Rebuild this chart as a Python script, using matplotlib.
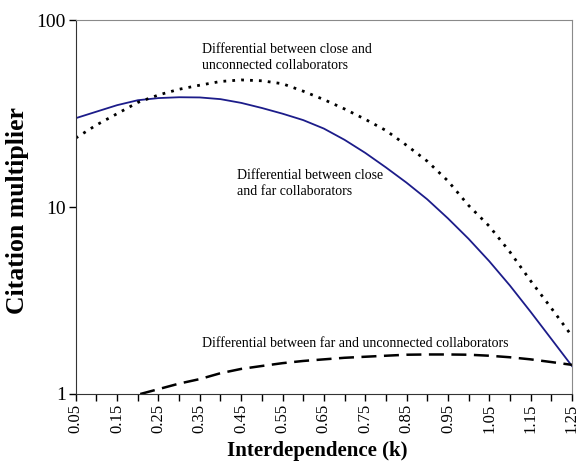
import matplotlib
matplotlib.use("Agg")
import matplotlib.pyplot as plt
from matplotlib.ticker import FixedLocator, NullLocator

# interdependence k, 0.05 .. 1.25
k = [0.05, 0.10, 0.15, 0.20, 0.25, 0.30, 0.35, 0.40, 0.45, 0.50, 0.55, 0.60, 0.65,
     0.70, 0.75, 0.80, 0.85, 0.90, 0.95, 1.00, 1.05, 1.10, 1.15, 1.20, 1.25]

close_far = [29.9, 32.4, 35.1, 37.3, 38.3, 38.7, 38.6, 37.8, 36.1, 33.9, 31.6, 29.2, 26.3,
             22.9, 19.5, 16.3, 13.5, 11.0, 8.7, 6.76, 5.13, 3.80, 2.75, 1.97, 1.41]

close_unconnected = [23.4, 27.5, 31.6, 36.3, 39.8, 42.7, 44.9, 47.0, 47.9, 47.4, 45.7, 41.7, 37.6,
                     33.5, 29.5, 25.7, 21.4, 17.6, 13.8, 10.2, 7.9, 5.75, 4.03, 2.88, 2.04]

far_unconnected = [0.78, 0.85, 0.91, 0.99, 1.06, 1.135, 1.20, 1.29, 1.36, 1.41, 1.46, 1.50, 1.53,
                   1.56, 1.58, 1.60, 1.62, 1.625, 1.625, 1.62, 1.60, 1.57, 1.53, 1.48, 1.43]


def main():
    plt.rcParams["font.family"] = ["Liberation Serif", "DejaVu Serif"]

    fig = plt.figure(figsize=(5.83, 4.70), dpi=100)
    ax = fig.add_axes([0.130, 0.162, 0.851, 0.795])

    ax.plot(k, close_far, color="#1c1c8a", lw=1.3)
    ax.plot(k, close_unconnected, color="black", lw=2.0, linestyle=(0, (1, 2.2)))
    ax.plot(k, far_unconnected, color="black", lw=1.8, linestyle=(0, (6, 3)))

    ax.set_yscale("log")
    ax.set_ylim(1, 100)
    ax.set_xlim(k[0], k[-1])
    ax.yaxis.set_major_locator(FixedLocator([1, 10, 100]))
    ax.yaxis.set_minor_locator(NullLocator())
    ax.set_yticklabels(["1", "10", "100"], fontsize=14)

    ax.set_xticks(k)
    ax.set_xticklabels([f"{v:.2f}" if i % 2 == 0 else "" for i, v in enumerate(k)],
                       rotation=90, fontsize=12)
    ax.tick_params(axis="both", direction="out", length=5, width=1, pad=2)

    for side in ["left", "bottom"]:
        ax.spines[side].set_color("#333333")
    for side in ["top", "right"]:
        ax.spines[side].set_color("#8a8a8a")

    ax.set_xlabel("Interdependence (k)", fontsize=15, fontweight="bold")
    ax.xaxis.set_label_coords(0.486, -0.125)
    ax.set_ylabel("Citation multiplier", fontsize=18.5, fontweight="bold")
    ax.yaxis.set_label_coords(-0.095, 0.49)

    ax.text(0.355, 63.4, "Differential between close and\nunconnected collaborators",
            fontsize=10, va="center", ha="left", linespacing=1.3)
    ax.text(0.44, 13.4, "Differential between close\nand far collaborators",
            fontsize=10, va="center", ha="left", linespacing=1.3)
    ax.text(0.355, 1.87, "Differential between far and unconnected collaborators",
            fontsize=10, va="center", ha="left")

    fig.savefig("out.png", dpi=100)


if __name__ == "__main__":
    main()
